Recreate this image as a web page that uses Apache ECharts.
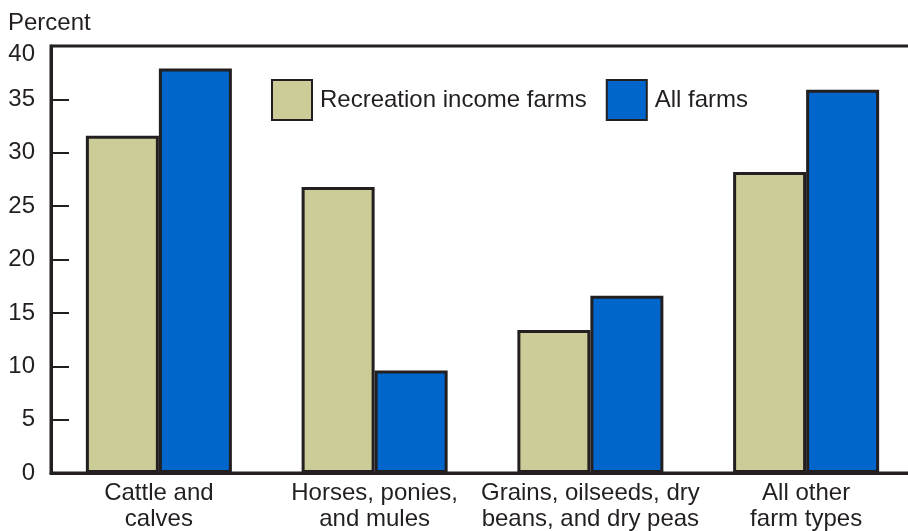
<!DOCTYPE html>
<html><head><meta charset="utf-8">
<script src="https://cdn.jsdelivr.net/npm/echarts@6/dist/echarts.min.js"></script>
<style>html,body{margin:0;padding:0;background:#fff}#c{width:908px;height:531px}</style>
</head><body><div id="c"></div>
<script>
const categories = ['Cattle and\ncalves', 'Horses, ponies,\nand mules', 'Grains, oilseeds, dry\nbeans, and dry peas', 'All other\nfarm types'];
const recreationIncomeFarms = [31.6, 26.8, 13.4, 28.2];
const allFarms = [37.9, 9.6, 16.6, 35.9];
const yTicks = [0, 5, 10, 15, 20, 25, 30, 35, 40];

const ink = '#231f20';
const font = '"Liberation Sans", Arial, Helvetica, sans-serif';
const chart = echarts.init(document.getElementById('c'), null, {renderer: 'canvas'});
chart.setOption({
  animation: false,
  backgroundColor: '#fff',
  textStyle: {fontFamily: font, color: ink},
  graphic: [{type: 'text', left: 8, top: 11, style: {text: 'Percent', font: '24px ' + font, fill: ink}}],
  legend: {
    left: 271, top: 79, itemWidth: 40, itemHeight: 40, itemGap: 19, padding: 0,
    textStyle: {fontSize: 24, color: ink, fontFamily: font, padding: [0, 0, 0, 3]},
    icon: 'rect'
  },
  grid: {left: 51, right: -6, top: 46, bottom: 58, outerBoundsMode: 'none', containLabel: false,
    show: true, borderColor: ink, borderWidth: 3, backgroundColor: 'transparent'},
  xAxis: {
    type: 'category', data: categories,
    axisLine: {lineStyle: {color: ink, width: 3}},
    axisTick: {show: false},
    axisLabel: {fontSize: 24, color: ink, lineHeight: 26, margin: 7, fontFamily: font, interval: 0}
  },
  yAxis: {
    type: 'value', min: 0, max: 40, interval: 5,
    axisLine: {show: true, lineStyle: {color: ink, width: 3}},
    axisTick: {show: true, inside: true, length: 18, lineStyle: {color: ink, width: 2}},
    splitLine: {show: false},
    axisLabel: {fontSize: 24, color: ink, margin: 16, fontFamily: font,
      formatter: v => !yTicks.includes(v) ? '' : (v === 40 ? '{top|' + v + '}' : String(v)),
      rich: {top: {fontSize: 24, fontFamily: font, color: ink, padding: [16, 0, 0, 0]}}}
  },
  series: [
    {name: 'Recreation income farms', type: 'bar', data: recreationIncomeFarms, barWidth: 73, barGap: '0%',
     itemStyle: {color: '#cccc99', borderColor: ink, borderWidth: 3}},
    {name: 'All farms', type: 'bar', data: allFarms, barWidth: 73, barGap: '0%',
     itemStyle: {color: '#0066cc', borderColor: ink, borderWidth: 3}}
  ]
});
</script></body></html>
